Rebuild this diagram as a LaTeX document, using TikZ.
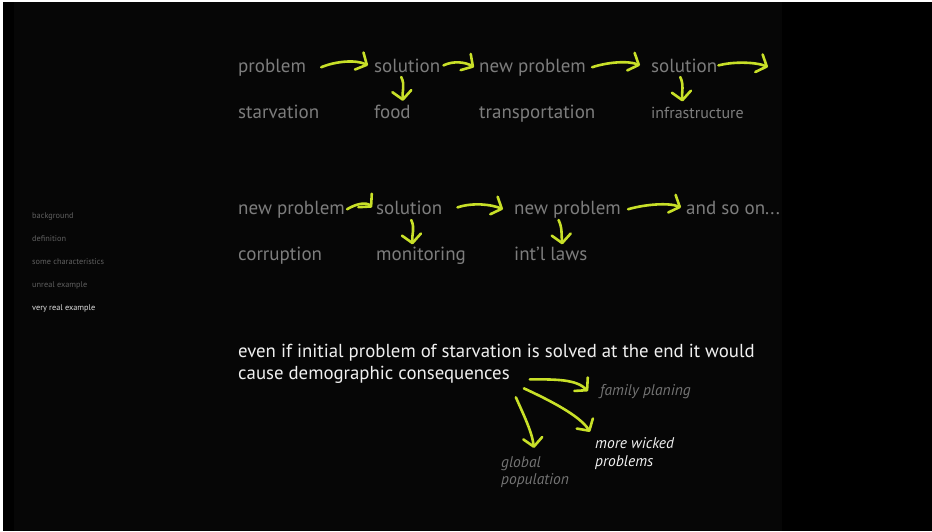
\documentclass[tikz,border=0pt]{standalone}
\usepackage{fontspec}
\setmainfont{PT Sans}
\usetikzlibrary{arrows.meta}
\definecolor{panel}{RGB}{6,6,6}
\definecolor{txt}{RGB}{125,125,125}
\definecolor{menu}{RGB}{95,95,95}
\definecolor{menuhi}{RGB}{225,225,225}
\definecolor{lime}{RGB}{200,224,40}
\definecolor{bright}{RGB}{240,240,240}
\definecolor{dimit}{RGB}{115,115,115}
\begin{document}
\begin{tikzpicture}[x=1pt,y=-1pt,
  lbl/.style={anchor=base west,inner sep=0pt,text=txt,font=\fontsize{19}{22}\selectfont},
  small/.style={lbl,font=\fontsize{16}{19}\selectfont},
  menuitem/.style={anchor=base west,inner sep=0pt,text=menu,font=\fontsize{8.3}{10}\selectfont},
  body/.style={anchor=base west,inner sep=0pt,text=bright,font=\fontsize{18.8}{23}\selectfont},
  itgrey/.style={anchor=base west,inner sep=0pt,text=dimit,font=\fontsize{15.5}{18}\selectfont\itshape},
  itwhite/.style={itgrey,text=bright},
  arr/.style={draw=lime,line width=2.6pt,line cap=round,line join=round,
    -{Straight Barb[length=8.5pt,width=19pt,round]}}
]
\fill[white] (0,0) rectangle (932,531);
\useasboundingbox (0,0) rectangle (932,531);
\fill[black] (3,2) rectangle (932,531);
\fill[panel] (14,2) rectangle (782,531);

% menu
\node[menuitem] (m1) at (32,218) {background};
\node[menuitem] (m2) at (32,241) {definition};
\node[menuitem] (m3) at (32,264) {some characteristics};
\node[menuitem] (m4) at (32,287) {unreal example};
\node[menuitem,text=menuhi] (m5) at (32,310) {very real example};

% row 1
\node[lbl] (p1) at (238,72) {problem};
\node[lbl] (s1) at (374,72) {solution};
\node[lbl] (n1) at (479,72) {new problem};
\node[lbl] (s2) at (651,72) {solution};
\coordinate (e1) at (768,67);
% row 2
\node[lbl] (st) at (238,118) {starvation};
\node[lbl] (fd) at (374,118) {food};
\node[lbl] (tr) at (479,118) {transportation};
\node[small] (inf) at (651,118) {infrastructure};

\draw[arr] ([xshift=15pt]p1.east) .. controls +(14,-6) and +(-12,-6) .. ([xshift=-6pt]s1.west);
\draw[arr] ([xshift=3pt]s1.east) .. controls +(10,-5) and +(-8,-5) .. ([xshift=-5pt]n1.west);
\draw[arr] ([xshift=6pt]n1.east) .. controls +(15,-5) and +(-12,-5) .. ([xshift=-11pt]s2.west);
\draw[arr] ([xshift=1pt]s2.east) .. controls +(15,-4) and +(-12,-5) .. (e1);
\draw[arr] ([shift={(-6pt,-5pt)}]s1.base) .. controls +(4,8) and +(-1,-9) .. ([shift={(10.5pt,3.5pt)}]fd.north);
\draw[arr] ([shift={(-4pt,-5pt)}]s2.base) .. controls +(4,8) and +(-1,-9) .. ([shift={(-15pt,5pt)}]inf.north);

% row 3
\node[lbl] (n2) at (238,214) {new problem};
\node[lbl] (s3) at (376,214) {solution};
\node[lbl] (n3) at (514,214) {new problem};
\node[lbl] (so) at (686,214) {and so on...};
% row 4
\node[lbl] (co) at (238,260) {corruption};
\node[lbl] (mo) at (376,260) {monitoring};
\node[lbl] (il) at (514,260) {int’l laws};

\draw[arr] ([xshift=2pt]n2.east) .. controls +(8,-5) and +(-6,-6) .. ([xshift=-4pt]s3.west);
\draw[arr] ([xshift=15pt]s3.east) .. controls +(15,-5) and +(-12,-5) .. ([xshift=-11pt]n3.west);
\draw[arr] ([xshift=7pt]n3.east) .. controls +(17,-5) and +(-12,-5) .. ([xshift=-5pt]so.west);
\draw[arr] ([shift={(2pt,-6pt)}]s3.base) .. controls +(4,8) and +(-1,-9) .. ([shift={(-8.5pt,2pt)}]mo.north);
\draw[arr] ([shift={(-9pt,-6pt)}]n3.base) .. controls +(4,8) and +(-1,-9) .. ([shift={(11.5pt,2pt)}]il.north);

% bottom text
\node[body] (t1) at (238,357) {even if initial problem of starvation is solved at the end it would};
\node[body] (t2) at (238,379) {cause demographic consequences};
\node[itgrey] (fp) at (600,395) {family planing};
\node[itwhite] (mw1) at (595,448) {more wicked};
\node[itwhite] (mw2) at (595,466) {problems};
\node[itgrey] (gp1) at (501,467) {global};
\node[itgrey] (gp2) at (501,484) {population};

\draw[arr] ([shift={(20pt,-5pt)}]t2.east) .. controls +(26,0) and +(-12,-12) .. ([xshift=-12pt]fp.west);
\draw[arr] ([shift={(14pt,-14pt)}]t2.east) .. controls +(26,12) and +(-10,-16) .. ([shift={(-5pt,5pt)}]mw1.north west);
\draw[arr] ([shift={(6pt,-23pt)}]t2.east) .. controls +(8,18) and +(-2,-16) .. ([shift={(13pt,8pt)}]gp1.north);
\end{tikzpicture}
\end{document}
